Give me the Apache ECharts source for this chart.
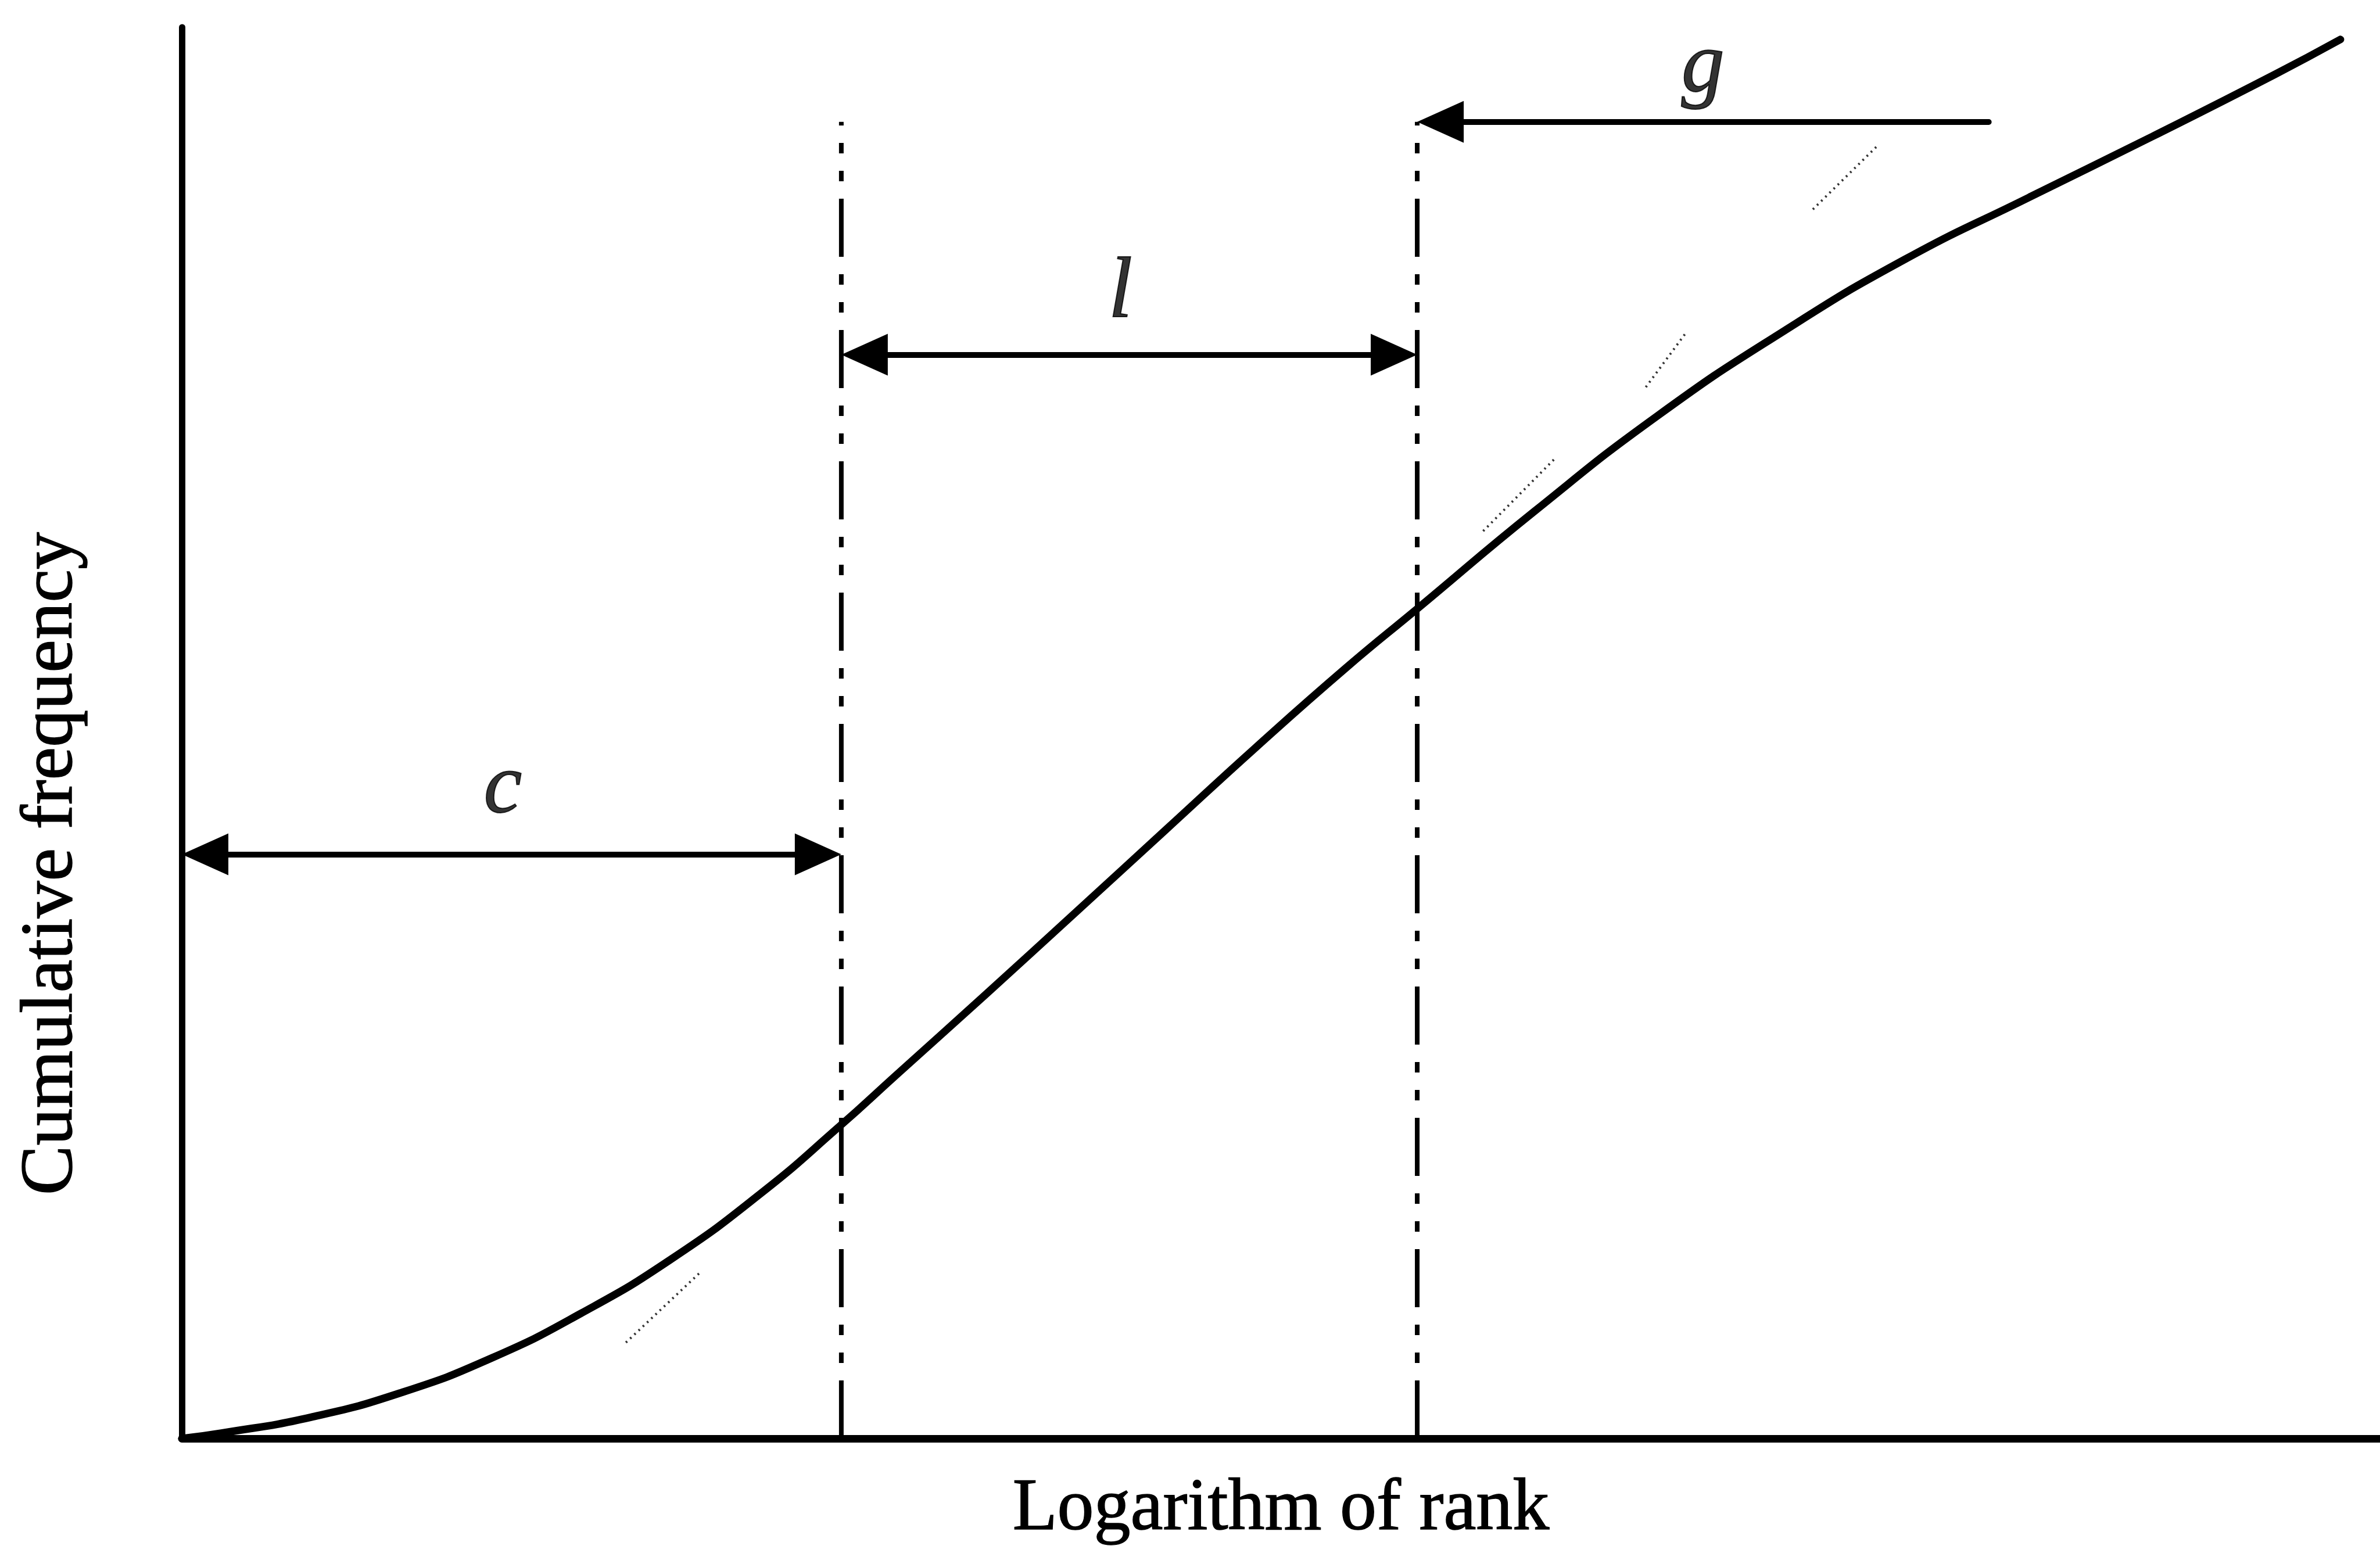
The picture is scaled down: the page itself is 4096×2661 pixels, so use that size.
<!DOCTYPE html>
<html>
<head>
<meta charset="utf-8">
<title>Cumulative frequency vs logarithm of rank</title>
<script src="https://cdn.jsdelivr.net/npm/echarts@6/dist/echarts.min.js"></script>
<style>
  html, body { margin: 0; padding: 0; background: #fff; }
  #chart { width: 4096px; height: 2661px; }
</style>
</head>
<body>
<div id="chart"></div>
<script>
// S-shaped cumulative curve (axis units 0..100)
const curveX = [0, 1.8, 5.87, 9.94, 14.09, 18.16, 22.24, 26.38, 29.94, 32.46, 36.6, 40.68, 44.75,
  48.9, 52.97, 56.22, 61.53, 67.13, 72.79, 78.38, 84.05, 89.64, 95.23, 98.2]
const curveY = [0, 0.38, 1.51, 3.23, 5.7, 8.87, 12.69, 17.42, 22.15, 25.7, 31.51, 37.31, 43.12,
  49.03, 54.62, 58.82, 65.7, 72.47, 78.39, 83.55, 87.96, 92.26, 96.67, 99.14]

// dash-dot boundaries
const guideX = [30, 56.2]
const guideTop = [93.3, 93.3]

// spans c, l, g (arrows)
const spanName = ['c', 'l', 'g']
const spanStart = [0, 30, 82.2]
const spanEnd = [30, 56.2, 56.2]
const spanY = [41.4, 76.8, 93.3]
const spanHeads = [['triangle', 'triangle'], ['triangle', 'triangle'], ['none', 'triangle']]
const labelX = [14.6, 42.7, 69.2]
const labelY = [46.0, 81.1, 97.1]

// faint dotted marks left over in the scan
const ghostFrom = [[20.2, 6.8], [59.2, 64.3], [66.6, 74.5], [74.2, 87.1]]
const ghostTo = [[23.6, 11.8], [62.5, 69.5], [68.4, 78.3], [77.2, 91.7]]

const el = document.getElementById('chart')
const chart = echarts.init(el)

const serif = "'Liberation Serif', 'Times New Roman', serif"
const gridLeft = 313
const gridRight = 0
const headSize = [72, 80]

// markLine symbols sit centred on the end point; pull the end in by half a head
// so the tip lands on the boundary
const pxPerUnit = (el.clientWidth - gridLeft - gridRight) / 100
const inset = headSize[1] / 2 / pxPerUnit

const arrowData = spanName.map((n, i) => {
  const dir = Math.sign(spanEnd[i] - spanStart[i])
  const from = spanHeads[i][0] === 'none' ? spanStart[i] : spanStart[i] + dir * inset
  const to = spanHeads[i][1] === 'none' ? spanEnd[i] : spanEnd[i] - dir * inset
  return [
    { coord: [from, spanY[i]], symbol: spanHeads[i][0] },
    { coord: [to, spanY[i]], symbol: spanHeads[i][1] }
  ]
})

const option = {
  backgroundColor: '#fff',
  animation: false,
  grid: {
    left: gridLeft,
    right: gridRight,
    top: 47,
    bottom: 185,
    containLabel: false,
    outerBoundsMode: 'none'
  },
  xAxis: {
    type: 'value',
    min: 0,
    max: 100,
    name: 'Logarithm of rank',
    nameLocation: 'middle',
    nameGap: 60,
    nameTextStyle: {
      fontFamily: serif, fontSize: 126, color: '#000',
      textBorderColor: '#000', textBorderWidth: 1.5
    },
    axisLine: { show: true, onZero: false, lineStyle: { color: '#000', width: 13 } },
    axisTick: { show: false },
    axisLabel: { show: false },
    splitLine: { show: false }
  },
  yAxis: {
    type: 'value',
    min: 0,
    max: 100,
    name: 'Cumulative frequency',
    nameLocation: 'middle',
    nameGap: 160,
    nameTextStyle: {
      fontFamily: serif,
      fontSize: 128,
      color: '#000',
      textBorderColor: '#000',
      textBorderWidth: 1.5,
      padding: [0, 450, 0, 0]
    },
    axisLine: { show: true, onZero: false, lineStyle: { color: '#000', width: 11 } },
    axisTick: { show: false },
    axisLabel: { show: false },
    splitLine: { show: false }
  },
  series: [
    {
      name: 'curve',
      type: 'line',
      data: curveX.map((x, i) => [x, curveY[i]]),
      smooth: 0.5,
      showSymbol: false,
      silent: true,
      lineStyle: { color: '#000', width: 13, cap: 'round' },
      markLine: {
        silent: true,
        symbolSize: headSize,
        label: { show: false },
        lineStyle: { color: '#000', width: 10, type: 'solid', cap: 'round' },
        emphasis: { disabled: true },
        data: arrowData
      }
    },
    ...guideX.map((x, i) => ({
      name: 'guide' + i,
      type: 'line',
      data: [[x, 0], [x, guideTop[i]]],
      showSymbol: false,
      silent: true,
      lineStyle: { color: '#000', width: 8, type: [100, 30, 18, 30, 18, 30], cap: 'butt' }
    })),
    {
      name: 'labels',
      type: 'scatter',
      symbolSize: 0,
      silent: true,
      data: spanName.map((n, i) => ({ value: [labelX[i], labelY[i]], name: n })),
      label: {
        show: true,
        position: 'inside',
        formatter: p => p.name,
        fontFamily: serif,
        fontStyle: 'italic',
        fontSize: 148,
        color: '#000',
        textBorderColor: '#000',
        textBorderWidth: 2
      }
    },
    {
      name: 'ghost',
      type: 'lines',
      coordinateSystem: 'cartesian2d',
      silent: true,
      data: ghostFrom.map((p, i) => ({ coords: [p, ghostTo[i]] })),
      lineStyle: { color: '#333', width: 4, type: [3, 7], opacity: 1 }
    }
  ]
}

chart.setOption(option)
</script>
</body>
</html>
